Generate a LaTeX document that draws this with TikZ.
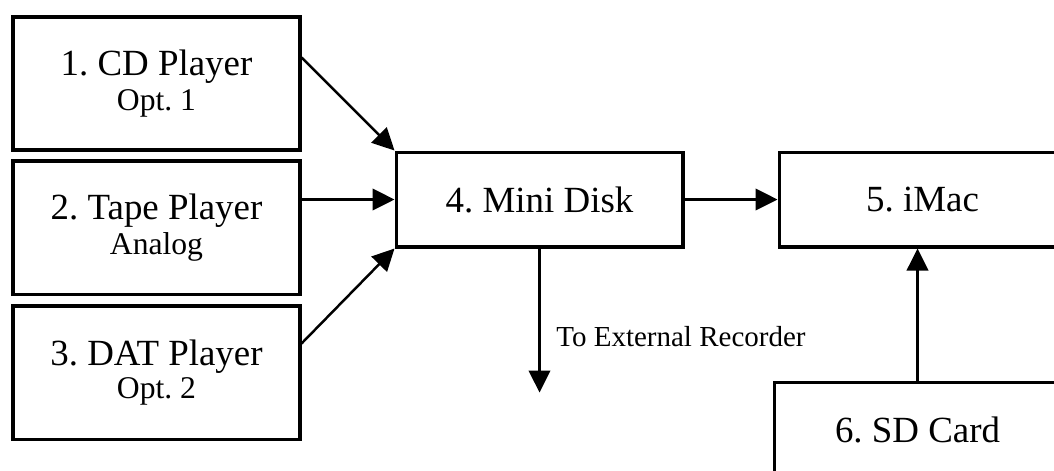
\documentclass[tikz,border=0pt]{standalone}
\usepackage{fontspec}
\setmainfont{Liberation Serif}
\usetikzlibrary{positioning,arrows.meta,calc}
\tikzstyle{devbox}=[rectangle, draw=black, line width=2pt, minimum width=57.3mm, minimum height=26.7mm, inner sep=2pt, text centered, align=center, font=\fontsize{21}{20}\selectfont]
\tikzstyle{hubbox}=[rectangle, draw=black, line width=2pt, minimum width=57.3mm, minimum height=18.9mm, inner sep=2pt, text centered, font=\fontsize{21}{20}\selectfont]
\tikzstyle{sigline}=[-{Triangle[length=4.4mm, width=4.3mm]}, line width=1.4pt]
\newcommand{\subline}[1]{{\fontsize{18}{20}\selectfont #1}}
\frenchspacing

\begin{document}
\begin{tikzpicture}[node distance=0mm]
\useasboundingbox (0,0) rectangle (21.08,-9.42);
\clip (0,0) rectangle (21.08,-9.42);

% players
\node (cd) [devbox] at (3.13,-1.67) {1. CD Player\\ \subline{Opt. 1}};
\node (tape) [devbox, below=1.4mm of cd] {2. Tape Player\\ \subline{Analog}};
\node (dat) [devbox, below=1.6mm of tape] {3. DAT Player\\[-1.5pt] \subline{Opt. 2}};

% mini disk and computer
\node (md) [hubbox, right=18.6mm of tape, yshift=5.6mm] {4. Mini Disk};
\node (imac) [hubbox, right=18.6mm of md] {5. iMac};
\node (sd) [hubbox, below=26.4mm of imac, xshift=-1mm] {6. SD Card};

% external recorder
\coordinate [below=28.8mm of md.south] (ext);
\node (extlbl) [below right=19.5mm and 3.3mm of md.south, anchor=base west, inner sep=0, font=\fontsize{16.5}{18}\selectfont] {To External Recorder};

\draw[sigline] ($(cd.east)+(0,5.2mm)$) -- (md.north west);
\draw[sigline] (tape.east |- md.west) -- (md.west);
\draw[sigline] ($(dat.east)+(0,5.8mm)$) -- (md.south west);
\draw[sigline] (md.east) -- (imac.west);
\draw[sigline] (md.south) -- (ext);
\draw[sigline] (sd.north) -- (sd.north |- imac.south);

\end{tikzpicture}
\end{document}
